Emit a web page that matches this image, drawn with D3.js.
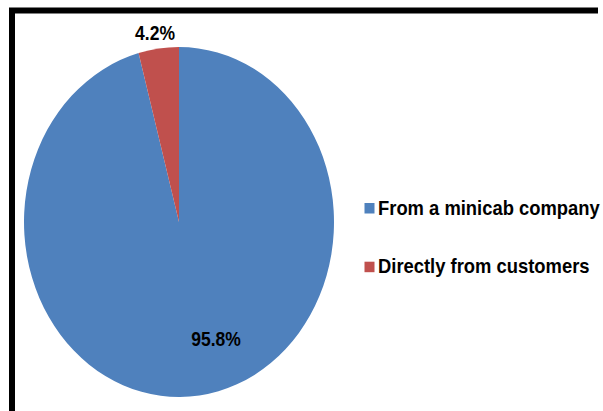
<!DOCTYPE html>
<html>
<head>
<meta charset="utf-8">
<script src="https://cdn.jsdelivr.net/npm/d3@7"></script>
<style>
  html, body { margin: 0; padding: 0; background: #fff; }
  svg { display: block; }
  text { font-family: "Liberation Sans", Arial, sans-serif; font-weight: bold; fill: #000; }
</style>
</head>
<body>
<svg id="chart" width="603" height="411"></svg>
<script>
const categories = ["From a minicab company", "Directly from customers"];
const values = [95.8, 4.2];
const valueLabels = ["95.8%", "4.2%"];
const colors = ["#4F81BD", "#C0504D"];

const W = 603, H = 411;
const SY = 1.129; // vertical stretch of the whole picture
const svg = d3.select("#chart");

// frame (top and left heavy border)
svg.append("path")
  .attr("d", `M12,${H + 10} L12,10.5 L598,10.5`)
  .attr("fill", "none")
  .attr("stroke", "#000")
  .attr("stroke-width", 6);

const g = svg.append("g").attr("transform", `scale(1,${SY})`);

const cx = 179, cy = 222 / SY, r = 155;
const pieG = g.append("g").attr("transform", `translate(${cx},${cy})`);

const pie = d3.pie().sort(null).value(d => d);
const arcs = pie(values);
const arc = d3.arc().innerRadius(0).outerRadius(r);

pieG.selectAll("path.slice")
  .data(arcs)
  .join("path")
  .attr("class", "slice")
  .attr("d", arc)
  .attr("fill", (d, i) => colors[i]);

// data labels (Excel best-fit placement)
const labelPos = [[37, 103.6], [-24, -167.4]];
pieG.selectAll("text.lbl")
  .data(arcs)
  .join("text")
  .attr("class", "lbl")
  .attr("x", (d, i) => labelPos[i][0])
  .attr("y", (d, i) => labelPos[i][1])
  .attr("dy", "0.36em")
  .attr("text-anchor", "middle")
  .attr("font-size", 17.5)
  .text((d, i) => valueLabels[i]);

// legend
const legendRows = [{ sq: 203, base: 215 }, { sq: 261.7, base: 273 }];
const lg = g.append("g");
categories.forEach((c, i) => {
  lg.append("rect")
    .attr("x", 364.5)
    .attr("y", legendRows[i].sq / SY)
    .attr("width", 10)
    .attr("height", 10.5 / SY)
    .attr("fill", colors[i]);
  lg.append("text")
    .attr("x", 378)
    .attr("y", legendRows[i].base / SY)
    .attr("font-size", 18.4)
    .text(c);
});
</script>
</body>
</html>
